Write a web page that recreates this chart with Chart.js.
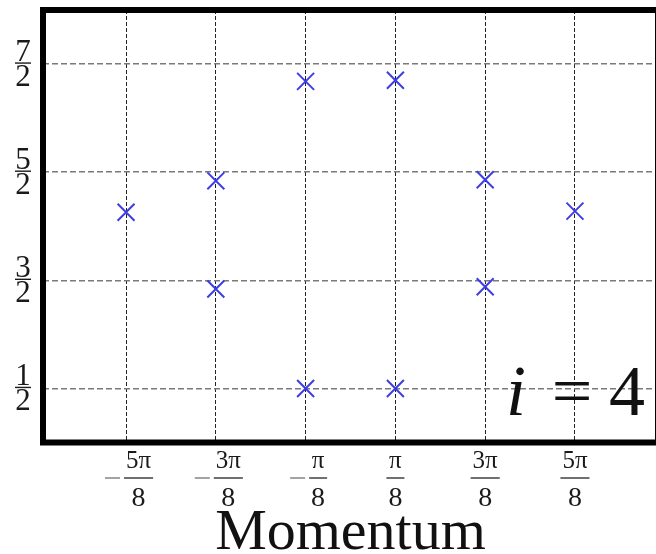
<!DOCTYPE html>
<html>
<head>
<meta charset="utf-8">
<script src="https://cdn.jsdelivr.net/npm/chart.js@4"></script>
<style>
  html, body { margin: 0; padding: 0; background: #fff; overflow: hidden; }
  #wrap { width: 662px; height: 554px; }
</style>
</head>
<body>
<div id="wrap"><canvas id="bands" width="662" height="554"></canvas></div>
<script>
// momentum in units of pi/8, energy
var momentumSteps = [-5, -3, -3, -1, -1, 1, 1, 3, 3, 5];
var energies = [2.13, 2.42, 1.42, 3.34, 0.5, 3.35, 0.5, 2.43, 1.44, 2.14];

var xTickSteps = [-5, -3, -1, 1, 3, 5];
var xTickNumerators = ["5π", "3π", "π", "π", "3π", "5π"];
var xTickDenominators = ["8", "8", "8", "8", "8", "8"];

var yTickValues = [0.5, 1.5, 2.5, 3.5];
var yTickNumerators = ["1", "3", "5", "7"];
var yTickDenominators = ["2", "2", "2", "2"];

var panelLabel = "4";

var SERIF = "'Liberation Serif', 'DejaVu Serif', serif";
var toRad = function (n) { return n * Math.PI / 8; };

var points = momentumSteps.map(function (n, i) {
  return { x: toRad(n), y: energies[i] };
});

var fractionLabels = {
  id: "fractionLabels",
  afterDraw: function (chart) {
    var ctx = chart.ctx;
    var area = chart.chartArea;
    var xs = chart.scales.x, ys = chart.scales.y;
    ctx.save();
    ctx.fillStyle = "#1a1a1a";
    ctx.strokeStyle = "#1a1a1a";

    // y tick fractions
    ctx.textAlign = "center";
    ctx.textBaseline = "alphabetic";
    yTickValues.forEach(function (v, i) {
      var py = ys.getPixelForValue(v);
      var cx = 23;
      ctx.font = "31px " + SERIF;
      ctx.fillText(yTickNumerators[i], cx, py - 3);
      ctx.fillText(yTickDenominators[i], cx, py + 22);
      ctx.lineWidth = 1.4;
      ctx.beginPath();
      ctx.moveTo(cx - 8, py - 1);
      ctx.lineTo(cx + 8, py - 1);
      ctx.stroke();
    });

    // x tick fractions
    xTickSteps.forEach(function (n, i) {
      var px = xs.getPixelForValue(toRad(n));
      ctx.font = "25px " + SERIF;
      var wn = ctx.measureText(xTickNumerators[i]).width;
      ctx.font = "28px " + SERIF;
      var wd = ctx.measureText(xTickDenominators[i]).width;
      var wf = Math.max(wn, wd) + 4;
      var neg = n < 0;
      var wm = neg ? 15 : 0, gap = neg ? 4 : 0;
      var left = px - (wm + gap + wf) / 2 + (neg ? 3 : 0);
      var fc = left + wm + gap + wf / 2;
      var barY = area.bottom + 35.5;
      ctx.textAlign = "center";
      ctx.fillStyle = "#1a1a1a";
      ctx.font = "25px " + SERIF;
      ctx.fillText(xTickNumerators[i], fc, barY - 10);
      ctx.font = "28px " + SERIF;
      ctx.fillText(xTickDenominators[i], fc, barY + 28);
      ctx.lineWidth = 1.4;
      ctx.strokeStyle = "#333";
      ctx.beginPath();
      ctx.moveTo(fc - wf / 2, barY);
      ctx.lineTo(fc + wf / 2, barY);
      ctx.stroke();
      if (neg) {
        ctx.strokeStyle = "#999";
        ctx.lineWidth = 1.8;
        ctx.beginPath();
        ctx.moveTo(left, barY);
        ctx.lineTo(left + wm, barY);
        ctx.stroke();
      }
    });

    // panel label  i = 4
    var base = area.bottom - 27.5;
    ctx.fillStyle = "#111";
    ctx.textAlign = "right";
    ctx.font = "72px " + SERIF;
    ctx.fillText(panelLabel, area.right - 13, base);
    ctx.textAlign = "center";
    ctx.fillText("=", area.right - 86, base);
    ctx.font = "italic 72px " + SERIF;
    ctx.fillText("i", area.right - 142, base);

    // heavy frame
    ctx.strokeStyle = "#000";
    ctx.lineWidth = 6;
    ctx.beginPath();
    ctx.moveTo(area.right, area.top);
    ctx.lineTo(area.left, area.top);
    ctx.lineTo(area.left, area.bottom);
    ctx.lineTo(area.right, area.bottom);
    ctx.lineTo(area.right, area.top);
    ctx.closePath();
    ctx.stroke();
    ctx.restore();
  }
};

new Chart(document.getElementById("bands"), {
  type: "scatter",
  data: {
    datasets: [{
      data: points,
      pointStyle: "crossRot",
      pointRadius: 12,
      pointHoverRadius: 12,
      borderWidth: 2,
      borderColor: "#3d3de6",
      backgroundColor: "#3d3de6"
    }]
  },
  options: {
    responsive: false,
    animation: false,
    layout: { autoPadding: false, padding: { left: 43, top: 10, right: 4, bottom: 0 } },
    plugins: { legend: { display: false }, tooltip: { enabled: false } },
    scales: {
      x: {
        type: "linear",
        min: -2.69,
        max: 2.69,
        afterBuildTicks: function (scale) {
          scale.ticks = xTickSteps.map(function (n) { return { value: toRad(n) }; });
        },
        afterFit: function (scale) { scale.height = 111.5; },
        ticks: { display: false },
        grid: { color: "#222", lineWidth: 1, drawTicks: false },
        border: { display: false, dash: [4, 2] },
        title: {
          display: true,
          text: "Momentum",
          color: "#111",
          font: { family: SERIF, size: 58, lineHeight: 0.8 },
          padding: { top: 0, bottom: -3 }
        }
      },
      y: {
        type: "linear",
        min: 0,
        max: 4,
        afterBuildTicks: function (scale) {
          scale.ticks = yTickValues.map(function (v) { return { value: v }; });
        },
        afterFit: function (scale) { scale.width = 0; },
        ticks: { display: false },
        grid: { color: "#7a7a7a", lineWidth: 1.6, drawTicks: false },
        border: { display: false, dash: [6, 3] }
      }
    }
  },
  plugins: [fractionLabels]
});
</script>
</body>
</html>
